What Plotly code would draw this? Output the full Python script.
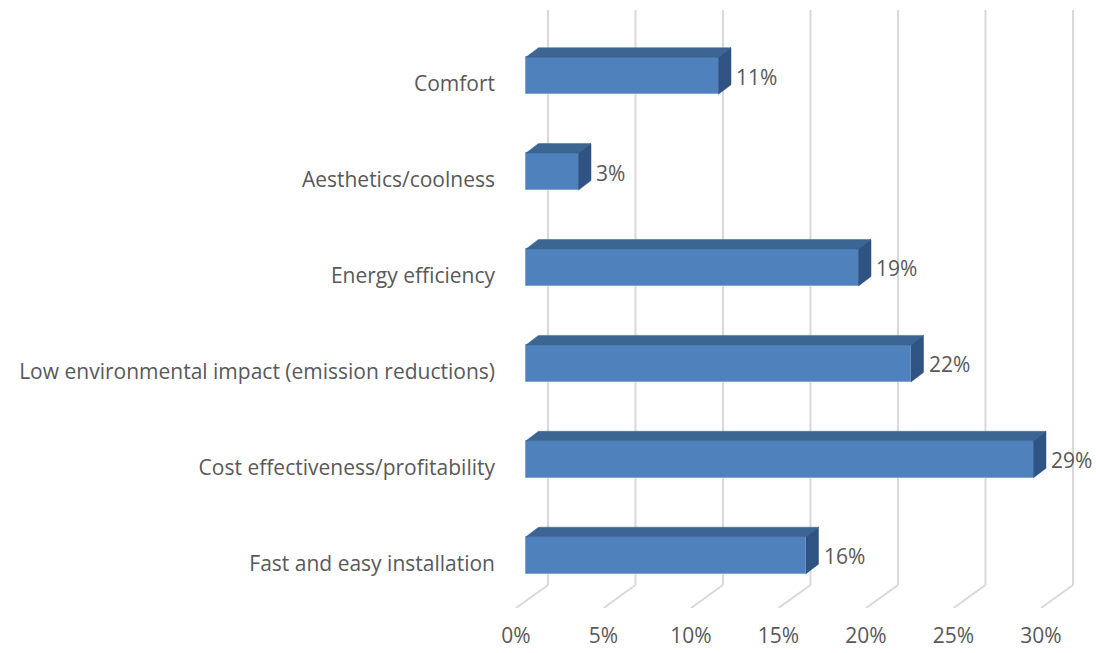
import plotly.graph_objects as go

# Survey results: share of respondents naming each factor as most important
categories = [
    "Fast and easy installation",
    "Cost effectiveness/profitability",
    "Low environmental impact (emission reductions)",
    "Energy efficiency",
    "Aesthetics/coolness",
    "Comfort",
]
values = [16, 29, 22, 19, 3, 11]
tick_values = [0, 5, 10, 15, 20, 25, 30]
tick_labels = ["0%", "5%", "10%", "15%", "20%", "25%", "30%"]

# Pixel scale of the plot area (used to express the 3-D depth offsets in data units)
PX_PER_X = 17.5
PX_PER_Y = 95.9
W, H = 1096, 653
ML, MR, MT, MB = 500, 0, 0, 45
plot_w = W - ML - MR
plot_h = H - MT - MB

x0 = -26 / PX_PER_X
x1 = x0 + plot_w / PX_PER_X
y0 = -52.8 / PX_PER_Y
y1 = y0 + plot_h / PX_PER_Y

# Depth of the bars and of the floor/back wall
BAR_DX, BAR_DY = 12.5 / PX_PER_X, 9.5 / PX_PER_Y
FLOOR_FRONT_DX = -10 / PX_PER_X
WALL_DX = 22 / PX_PER_X
WALL_BOTTOM = y0 + 23 / PX_PER_Y
WALL_TOP = y0 + 598 / PX_PER_Y
BAR_W = 37 / PX_PER_Y

FRONT = "#4F81BD"
TOP = "#3C6593"
SIDE = "#2F5382"
GRID = "#D9D9D9"
TEXT = "#595959"
FONT = "Open Sans"
FONT_SIZE = 21

idx = list(range(len(categories)))

fig = go.Figure()

# Front faces of the bars
fig.add_trace(go.Bar(
    x=values, y=idx, orientation="h", width=BAR_W,
    marker=dict(color=FRONT, line=dict(color="#7FA6D6", width=1)),
    hoverinfo="skip", showlegend=False,
))

# Top and side faces give the bars their depth
for i, v in zip(idx, values):
    top = i + BAR_W / 2
    bot = i - BAR_W / 2
    fig.add_trace(go.Scatter(
        x=[0, v, v + BAR_DX, BAR_DX, 0],
        y=[top, top, top + BAR_DY, top + BAR_DY, top],
        fill="toself", fillcolor=TOP, mode="lines",
        line=dict(color=TOP, width=0.5),
        hoverinfo="skip", showlegend=False,
    ))
    fig.add_trace(go.Scatter(
        x=[v, v + BAR_DX, v + BAR_DX, v, v],
        y=[bot, bot + BAR_DY, top + BAR_DY, top, bot],
        fill="toself", fillcolor=SIDE, mode="lines",
        line=dict(color=SIDE, width=0.5),
        hoverinfo="skip", showlegend=False,
    ))

# Floor and back-wall gridlines
shapes = []
for t in tick_values:
    shapes.append(dict(type="line", xref="x", yref="y", layer="below",
                       x0=t + FLOOR_FRONT_DX, y0=y0, x1=t + WALL_DX, y1=WALL_BOTTOM,
                       line=dict(color=GRID, width=2)))
    shapes.append(dict(type="line", xref="x", yref="y", layer="below",
                       x0=t + WALL_DX, y0=WALL_BOTTOM, x1=t + WALL_DX, y1=WALL_TOP,
                       line=dict(color=GRID, width=2)))

# Value labels beside each bar
annotations = []
for i, v in zip(idx, values):
    annotations.append(dict(
        x=v + BAR_DX, y=i - 0.01, xref="x", yref="y",
        text=f"{v}%", showarrow=False, xanchor="left", yanchor="middle",
        xshift=3, font=dict(family=FONT, size=FONT_SIZE, color=TEXT),
    ))

fig.update_layout(
    width=W, height=H,
    margin=dict(l=ML, r=MR, t=MT, b=MB),
    paper_bgcolor="white", plot_bgcolor="white",
    shapes=shapes, annotations=annotations,
    font=dict(family=FONT, size=FONT_SIZE, color=TEXT),
    bargap=0,
)
fig.update_xaxes(
    range=[x0, x1], tickvals=tick_values, ticktext=tick_labels,
    showgrid=False, zeroline=False, showline=False, ticks="",
    ticklabelshift=-10, ticklabelstandoff=13,
    tickfont=dict(family=FONT, size=FONT_SIZE, color=TEXT),
)
fig.update_yaxes(
    range=[y0, y1], tickvals=idx, ticktext=categories,
    showgrid=False, zeroline=False, showline=False, ticks="",
    ticklabelshift=8, ticklabelstandoff=4,
    tickfont=dict(family=FONT, size=FONT_SIZE, color=TEXT),
)

fig.write_html("out.html")
